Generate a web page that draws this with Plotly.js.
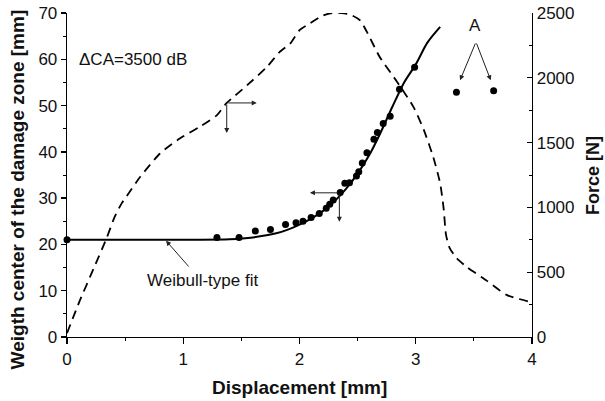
<!DOCTYPE html>
<html>
<head>
<meta charset="utf-8">
<script src="https://cdn.plot.ly/plotly-3.0.1.min.js"></script>
<style>html,body{margin:0;padding:0;background:#fff}#chart{width:605px;height:401px}</style>
</head>
<body>
<div id="chart"></div>
<script>
// Measured weight-center points (displacement mm, weight center mm)
var ptsX = [0, 1.29, 1.48, 1.62, 1.75, 1.88, 1.97, 2.03, 2.10, 2.17, 2.23, 2.26, 2.29, 2.35, 2.39, 2.43, 2.49, 2.51, 2.54, 2.58, 2.64, 2.67, 2.72, 2.78, 2.86, 2.99];
var ptsY = [21.0, 21.5, 21.5, 22.9, 23.2, 24.3, 24.7, 25.0, 25.8, 26.7, 27.8, 28.7, 29.6, 31.2, 33.2, 33.3, 34.8, 35.7, 37.6, 39.8, 42.7, 44.2, 46.1, 47.7, 53.5, 58.3];
// Points marked "A"
var aX = [3.35, 3.67];
var aY = [52.9, 53.2];
// Weibull-type fit curve
var fitX = [0, 1.0, 1.4, 1.6, 1.8, 1.9, 2.0, 2.1, 2.2, 2.3, 2.4, 2.5, 2.6, 2.7, 2.8, 2.9, 3.0, 3.1, 3.21];
var fitY = [21, 21, 21.1, 21.5, 22.4, 23.2, 24.3, 25.6, 27.2, 29.3, 32.0, 35.3, 39.3, 44.3, 49.8, 55.0, 58.9, 63.6, 67.0];
// Force curve (right axis, N)
var forceX = [0, 0.11, 0.23, 0.34, 0.41, 0.47, 0.51, 0.63, 0.80, 0.97, 1.14, 1.29, 1.37, 1.55, 1.72, 1.83, 1.92, 2.00, 2.09, 2.20, 2.28, 2.36, 2.43, 2.52, 2.58, 2.69, 2.84, 2.98, 3.07, 3.15, 3.21, 3.24, 3.26, 3.29, 3.35, 3.44, 3.61, 3.78, 3.98];
var forceY = [30, 280, 530, 761, 927, 1031, 1082, 1236, 1416, 1532, 1621, 1712, 1802, 1943, 2084, 2200, 2264, 2367, 2420, 2480, 2500, 2500, 2490, 2444, 2354, 2161, 1968, 1776, 1596, 1390, 1185, 990, 790, 690, 610, 540, 435, 325, 272];

var xTicks = [0, 1, 2, 3, 4];
var yTicks = [0, 10, 20, 30, 40, 50, 60, 70];
var y2Ticks = [0, 500, 1000, 1500, 2000, 2500];

var FONT = 'Arial, "Liberation Sans", Helvetica, sans-serif';
var TXT = '#111';

var traces = [
  {x: forceX, y: forceY, yaxis: 'y2', mode: 'lines', type: 'scatter',
   line: {color: '#000', width: 1.8, dash: '9px,6px', shape: 'spline', smoothing: 0.6},
   hoverinfo: 'skip', showlegend: false},
  {x: fitX, y: fitY, mode: 'lines', type: 'scatter',
   line: {color: '#000', width: 2, shape: 'spline', smoothing: 0.8},
   hoverinfo: 'skip', showlegend: false},
  {x: ptsX, y: ptsY, mode: 'markers', type: 'scatter', cliponaxis: false,
   marker: {color: '#000', size: 7}, showlegend: false},
  {x: aX, y: aY, mode: 'markers', type: 'scatter', cliponaxis: false,
   marker: {color: '#000', size: 7}, showlegend: false}
];

function arrow(x, y, ax, ay) {
  return {x: x, y: y, ax: ax, ay: ay, xref: 'x', yref: 'y', axref: 'x', ayref: 'y',
    text: '', showarrow: true, arrowhead: 2, arrowsize: 1, arrowwidth: 1, arrowcolor: '#222'};
}

var annotations = [
  {x: 0.086, y: 60, xref: 'x', yref: 'y', text: '\u0394CA=3500 dB', showarrow: false,
   xanchor: 'left', yanchor: 'middle', font: {family: FONT, size: 17, color: TXT}},
  {x: 3.51, y: 67.3, xref: 'x', yref: 'y', text: 'A', showarrow: false,
   xanchor: 'center', yanchor: 'middle', font: {family: FONT, size: 17, color: TXT}},
  {x: 1.166, y: 12.3, xref: 'x', yref: 'y', text: 'Weibull-type fit', showarrow: false,
   xanchor: 'center', yanchor: 'middle', font: {family: FONT, size: 17, color: TXT}},
  arrow(0.852, 20.8, 1.058, 14.9),
  arrow(3.381, 55.47, 3.518, 63.74),
  arrow(3.645, 55.47, 3.518, 63.74),
  arrow(1.632, 50.57, 1.374, 50.57),
  arrow(1.374, 44.1, 1.374, 50.57),
  arrow(2.090, 31.15, 2.343, 31.15),
  arrow(2.343, 24.9, 2.343, 31.15),
  {x: 0.5, y: -0.157, xref: 'paper', yref: 'paper', text: '<b>Displacement [mm]</b>', showarrow: false,
   xanchor: 'center', yanchor: 'middle', font: {family: FONT, size: 19, color: TXT}},
  {x: -0.1065, y: 0.457, xref: 'paper', yref: 'paper', text: '<b>Weigth center of the damage zone [mm]</b>', showarrow: false,
   textangle: -90, xanchor: 'center', yanchor: 'middle', font: {family: FONT, size: 19, color: TXT}},
  {x: 1.131, y: 0.5, xref: 'paper', yref: 'paper', text: '<b>Force [N]</b>', showarrow: false,
   textangle: -90, xanchor: 'center', yanchor: 'middle', font: {family: FONT, size: 18, color: TXT}}
];

var layout = {
  width: 605, height: 401,
  margin: {l: 67, r: 73, t: 13, b: 64, pad: 0},
  paper_bgcolor: '#fff', plot_bgcolor: '#fff',
  showlegend: false,
  font: {family: FONT, size: 17, color: TXT},
  xaxis: {range: [0, 4], tickvals: xTicks, ticktext: xTicks.map(String),
    showgrid: false, zeroline: false, showline: true, linecolor: '#000', linewidth: 1.3,
    ticks: 'outside', ticklen: 6, tickwidth: 1.3, tickcolor: '#000',
    minor: {dtick: 0.5, tick0: 0, ticks: 'outside', ticklen: 3, tickwidth: 1, tickcolor: '#000'},
    tickfont: {family: FONT, size: 17, color: TXT}, fixedrange: true},
  yaxis: {range: [0, 70], tickvals: yTicks, ticktext: yTicks.map(String),
    showgrid: false, zeroline: false, showline: true, linecolor: '#000', linewidth: 1.3,
    ticks: 'outside', ticklen: 5, tickwidth: 1.3, tickcolor: '#000',
    minor: {dtick: 5, tick0: 0, ticks: 'outside', ticklen: 3, tickwidth: 1, tickcolor: '#000'},
    tickfont: {family: FONT, size: 17, color: TXT}, fixedrange: true},
  yaxis2: {range: [0, 2500], tickvals: y2Ticks, ticktext: y2Ticks.map(String),
    overlaying: 'y', side: 'right', anchor: 'x',
    showgrid: false, zeroline: false, showline: true, linecolor: '#000', linewidth: 1.3,
    ticks: 'inside', ticklen: 5, tickwidth: 1.3, tickcolor: '#000',
    minor: {dtick: 250, tick0: 0, ticks: 'inside', ticklen: 3, tickwidth: 1, tickcolor: '#000'},
    tickfont: {family: FONT, size: 17, color: TXT}, fixedrange: true},
  annotations: annotations
};

Plotly.newPlot('chart', traces, layout, {displayModeBar: false, staticPlot: true});
</script>
</body>
</html>
